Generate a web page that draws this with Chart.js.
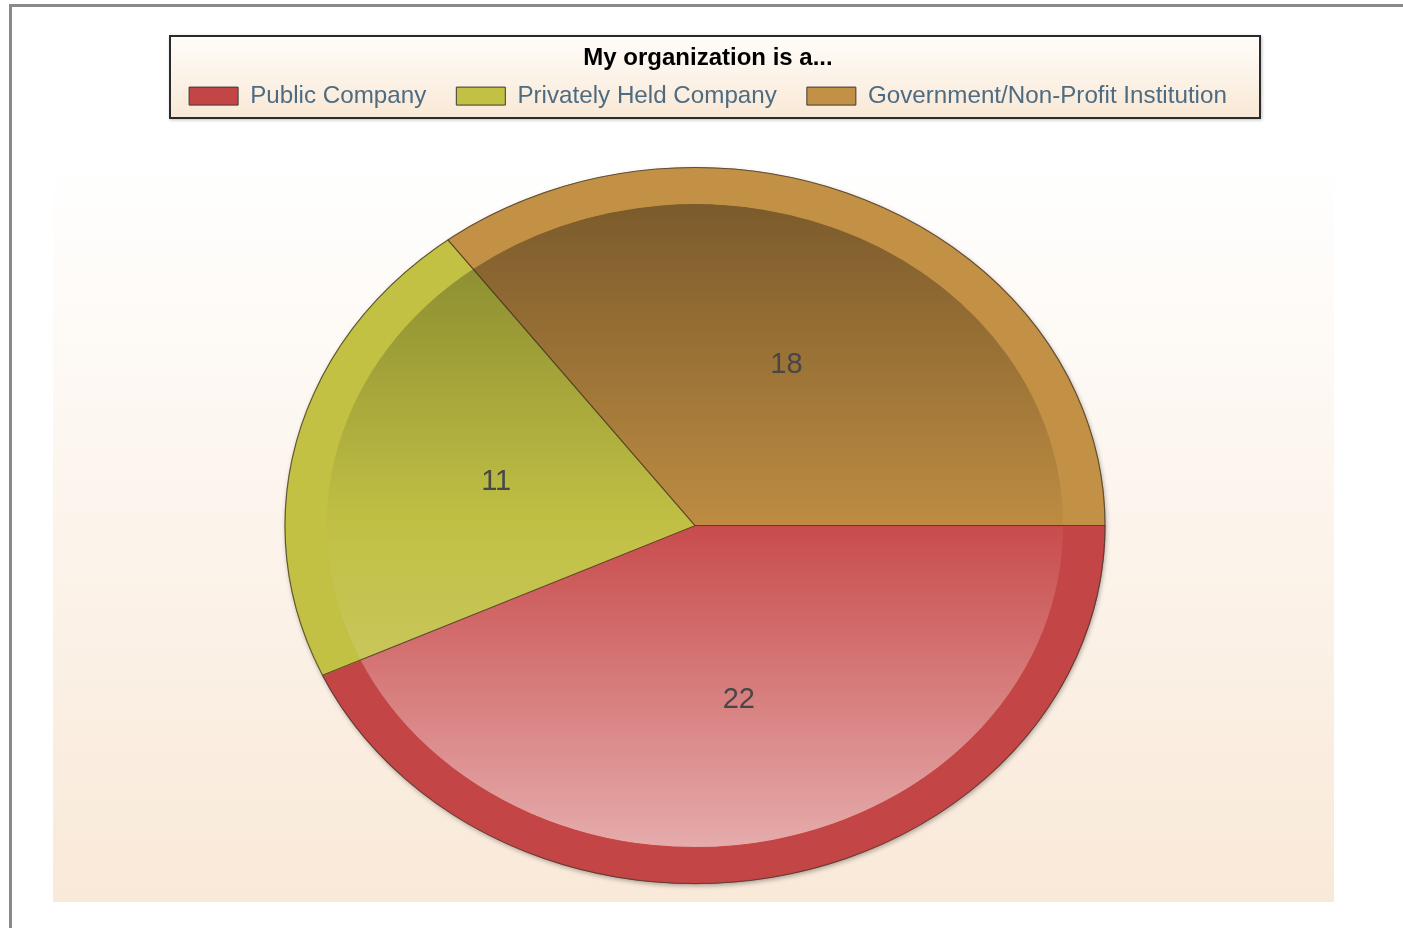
<!DOCTYPE html>
<html>
<head>
<meta charset="utf-8">
<title>My organization is a...</title>
<script src="https://cdn.jsdelivr.net/npm/chart.js@4.4.0/dist/chart.umd.min.js"></script>
<style>
  html, body { margin: 0; padding: 0; background: #ffffff; overflow: hidden; height: 928px; }
  #grafica { display: block; }
</style>
</head>
<body>
<canvas id="grafica" width="1403" height="933"></canvas>
<script>
// datos
const categorias = ['Public Company', 'Privately Held Company', 'Government/Non-Profit Institution'];
const cantidades = [22, 11, 18];
const tituloLeyenda = 'My organization is a...';

// colores: anillo exterior y degradado interior (oscuro arriba, base, claro abajo)
const coloresAnillo = ['#c44545', '#c2c144', '#c39145'];
const coloresArriba = ['#8c3232', '#7a7c2a', '#745529'];
const coloresCentro = ['#c84c4c', '#c1c045', '#bd8c42'];
const coloresAbajo = ['#e9b6b6', '#d3d17c', '#dcc090'];

const ESCALA_X = 410 / 358; // el pastel es una elipse
const RADIO = 358;

function degradado(context) {
    const chart = context.chart;
    const area = chart.chartArea;
    const i = context.dataIndex;
    if (!area) return coloresCentro[i];
    const cy = (area.top + area.bottom) / 2;
    const g = chart.ctx.createLinearGradient(0, cy - RADIO, 0, cy + RADIO);
    g.addColorStop(0, coloresArriba[i]);
    g.addColorStop(0.5, coloresCentro[i]);
    g.addColorStop(1, coloresAbajo[i]);
    return g;
}

const fondo = {
    id: 'fondo',
    afterLayout(chart) {
        // la leyenda va un poco a la derecha del centro del pastel
        chart.legend.left += 13;
        chart.legend.right += 13;
    },
    beforeDraw(chart) {
        const ctx = chart.ctx;
        ctx.save();
        // marco gris
        ctx.fillStyle = '#8a8a8a';
        ctx.fillRect(9, 4, 1394, 3);
        ctx.fillRect(9, 4, 3, 932);
        // panel del pastel
        let g = ctx.createLinearGradient(0, 158, 0, 902);
        g.addColorStop(0, '#ffffff');
        g.addColorStop(1, '#f9e9d8');
        ctx.fillStyle = g;
        ctx.fillRect(53, 158, 1281, 744);
        // caja de la leyenda
        ctx.shadowColor = 'rgba(0,0,0,0.25)';
        ctx.shadowBlur = 3;
        ctx.shadowOffsetX = 1;
        ctx.shadowOffsetY = 1;
        g = ctx.createLinearGradient(0, 35, 0, 119);
        g.addColorStop(0, '#fffdfa');
        g.addColorStop(1, '#f9e8d5');
        ctx.fillStyle = g;
        ctx.fillRect(169, 35, 1092, 84);
        ctx.shadowColor = 'transparent';
        ctx.strokeStyle = '#2b2b2b';
        ctx.lineWidth = 2;
        ctx.strokeRect(170, 36, 1090, 82);
        ctx.restore();
    }
};

const elipse = {
    id: 'elipse',
    beforeDatasetsDraw(chart) {
        const ctx = chart.ctx;
        const arco = chart.getDatasetMeta(0).data[0];
        const cx = arco.x, cy = arco.y, r = arco.outerRadius;
        // sombra
        ctx.save();
        ctx.shadowColor = 'rgba(0,0,0,0.35)';
        ctx.shadowBlur = 5;
        ctx.shadowOffsetX = 1;
        ctx.shadowOffsetY = 2;
        ctx.fillStyle = coloresAnillo[2];
        ctx.beginPath();
        ctx.ellipse(cx, cy, r * ESCALA_X, r, 0, 0, Math.PI * 2);
        ctx.fill();
        ctx.restore();

        ctx.save();
        ctx.translate(cx, cy);
        ctx.scale(ESCALA_X, 1);
        ctx.translate(-cx, -cy);
    },
    afterDatasetsDraw(chart) {
        const ctx = chart.ctx;
        const meta = chart.getDatasetMeta(0);
        const cx = meta.data[0].x, cy = meta.data[0].y, r = meta.data[0].outerRadius;
        // separadores y contorno
        ctx.strokeStyle = 'rgba(55,40,25,0.75)';
        ctx.lineWidth = 1;
        ctx.beginPath();
        for (const arco of meta.data) {
            ctx.moveTo(cx, cy);
            ctx.lineTo(cx + Math.cos(arco.startAngle) * r, cy + Math.sin(arco.startAngle) * r);
        }
        ctx.stroke();
        ctx.strokeStyle = 'rgba(70,60,50,0.8)';
        ctx.beginPath();
        ctx.arc(cx, cy, r, 0, Math.PI * 2);
        ctx.stroke();
        ctx.restore();

        // etiquetas de valor
        ctx.save();
        ctx.font = '29px "Liberation Sans", Arial, sans-serif';
        ctx.fillStyle = '#474747';
        ctx.textAlign = 'center';
        ctx.textBaseline = 'middle';
        meta.data.forEach((arco, i) => {
            const medio = (arco.startAngle + arco.endAngle) / 2;
            const x = cx + Math.cos(medio) * r * 0.5 * ESCALA_X;
            const y = cy + Math.sin(medio) * r * 0.5;
            ctx.fillText(String(cantidades[i]), x, y);
        });
        ctx.restore();
    }
};

const ctx = document.getElementById('grafica').getContext('2d');
const miGrafica = new Chart(ctx, {
    type: 'pie',
    data: {
        labels: categorias,
        datasets: [
            {
                data: cantidades,
                weight: 36,
                backgroundColor: coloresAnillo,
                borderColor: coloresAnillo,
                borderWidth: 1
            },
            {
                data: cantidades,
                weight: 322,
                backgroundColor: degradado,
                borderWidth: 0
            }
        ]
    },
    options: {
        responsive: false,
        animation: false,
        events: [],
        rotation: 90,
        radius: RADIO,
        layout: {
            padding: { top: 0, left: 0, right: 13, bottom: 0 }
        },
        plugins: {
            tooltip: { enabled: false },
            legend: {
                position: 'top',
                title: {
                    display: true,
                    text: tituloLeyenda,
                    color: '#000000',
                    font: { family: '"Liberation Sans", Arial, sans-serif', size: 24, weight: 'bold', lineHeight: '8px' },
                    padding: { top: 46, bottom: 0 }
                },
                labels: {
                    boxWidth: 49,
                    boxHeight: 18,
                    padding: 30,
                    color: '#4d6c82',
                    font: { family: '"Liberation Sans", Arial, sans-serif', size: 24.2 },
                    generateLabels(chart) {
                        const base = Chart.overrides.pie.plugins.legend.labels.generateLabels(chart);
                        return base.map(item => Object.assign(item, { strokeStyle: '#3a3a3a', lineWidth: 1 }));
                    }
                }
            }
        }
    },
    plugins: [fondo, elipse]
});
</script>
</body>
</html>
